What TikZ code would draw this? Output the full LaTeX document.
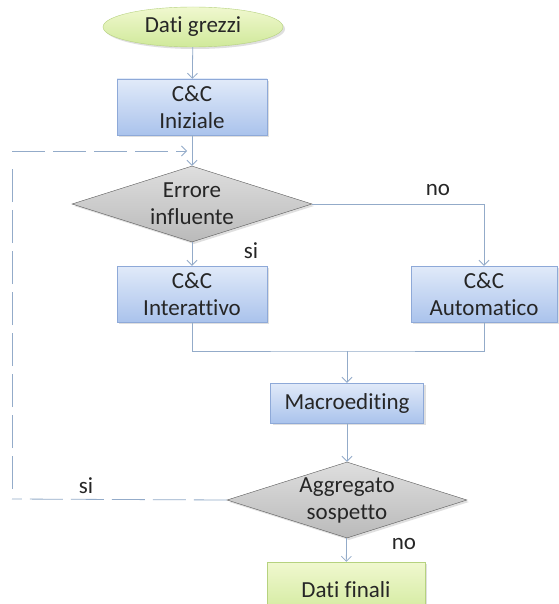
\documentclass[tikz,border=0pt]{standalone}
\usepackage{fontspec}
\setmainfont[Ligatures=NoCommon]{Carlito}
\usepackage{xcolor}
\usepackage{tikz}
\usetikzlibrary{arrows.meta,shapes.geometric,shadows}
\tikzset{>={Straight Barb[length=5pt,width=10pt]}}
\definecolor{boxT}{HTML}{E1EAF9}
\definecolor{boxB}{HTML}{AAC3EC}
\definecolor{boxD}{HTML}{8EA9D8}
\definecolor{grnT}{HTML}{F0F8CF}
\definecolor{grnB}{HTML}{D0E99A}
\definecolor{grnD}{HTML}{B6D27F}
\definecolor{decT}{HTML}{DEDEDE}
\definecolor{decB}{HTML}{BABABA}
\definecolor{decD}{HTML}{5A5A5A}
\definecolor{wirecol}{HTML}{93ABC9}
\tikzset{
  txt/.style={font=\fontsize{23}{27}\selectfont,text=black!85},
  soft/.style={drop shadow={opacity=.25,shadow xshift=2pt,shadow yshift=-2pt}},
  stepbox/.style={txt,soft,rectangle,draw=boxD,top color=boxT,bottom color=boxB,
    align=center,inner sep=0pt,minimum height=56pt},
  endbox/.style={txt,soft,rectangle,draw=grnD,top color=grnT,bottom color=grnB,
    align=center,inner sep=0pt,minimum height=56pt},
  startnode/.style={txt,soft,ellipse,draw=grnD,top color=grnT,bottom color=grnB,
    inner sep=0pt,minimum width=180pt,minimum height=40pt},
  choice/.style={txt,soft,diamond,draw=decD,top color=decT,bottom color=decB,
    align=center,inner sep=-5pt,aspect=3.2,minimum width=240pt,minimum height=76pt},
  link/.style={draw=wirecol,line width=.8pt},
  lbl/.style={txt}
}
\begin{document}
\begin{tikzpicture}[x=1pt,y=-1pt]
\useasboundingbox[fill=white] (0,0) rectangle (558,604);
% nodes
\node[startnode] (raw) at (193,27) {Dati grezzi};
\node[stepbox,minimum width=150pt] (ini) at (192,107) {C\&C\\Iniziale};
\node[choice] (err) at (192,204) {Errore\\influente};
\node[stepbox,minimum width=150pt] (inter) at (192,294) {C\&C\\Interattivo};
\node[stepbox,minimum width=146pt] (auto) at (484,294) {C\&C\\Automatico};
\node[stepbox,minimum width=153pt,minimum height=40pt] (macro) at (347,403) {Macroediting};
\node[choice] (agg) at (347,500) {Aggregato\\sospetto};
\node[endbox,minimum width=158pt] (fin) at (346,590) {Dati finali};
\coordinate (join) at (347,351);
\coordinate (back) at (12,499);
\coordinate (up) at (12,151);
\coordinate (loop) at (187,151);
% connectors
\draw[link,->] (raw) -- (ini);
\draw[link,->] (ini) -- (err);
\draw[link,->] (err) -- (inter);
\draw[link,->] (err.east) -| (auto.north);
\draw[link] (inter.south) |- (join) -| (auto.south);
\draw[link,->] (join) -- (macro);
\draw[link,->] (macro) -- (agg);
\draw[link,->] (agg) -- (fin);
\draw[link,dash pattern=on 33pt off 8pt] (agg.west) -- (back);
\draw[link,dash pattern=on 33pt off 8pt] (12,489) -- (12,162);
\draw[link,->,dash pattern=on 33pt off 8pt] (up) -- (loop);
% labels
\node[lbl] (noA) at (438,190) {no};
\node[lbl] (siA) at (251,251) {si};
\node[lbl] (siB) at (86,486) {si};
\node[lbl] (noB) at (404,544) {no};
\end{tikzpicture}
\end{document}
